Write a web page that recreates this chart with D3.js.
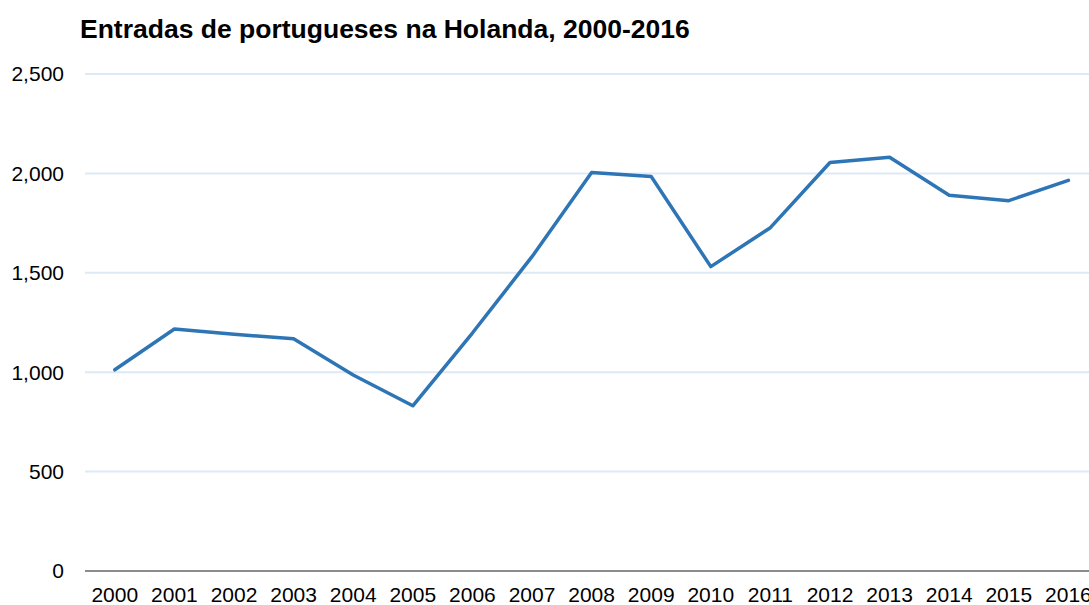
<!DOCTYPE html>
<html>
<head>
<meta charset="utf-8">
<script src="https://cdn.jsdelivr.net/npm/d3@7"></script>
<style>
  body { margin: 0; background: #fff; }
  svg { display: block; font-family: "Liberation Sans", Arial, sans-serif; }
</style>
</head>
<body>
<div id="chart"></div>
<script>
'use strict';

var years = ['2000','2001','2002','2003','2004','2005','2006','2007','2008','2009','2010','2011','2012','2013','2014','2015','2016'];
var entradas = [1012, 1217, 1191, 1168, 986, 831, 1197, 1581, 2004, 1984, 1531, 1727, 2055, 2081, 1890, 1863, 1965];
var yTicks = [0, 500, 1000, 1500, 2000, 2500];

var width = 1089, height = 605;
var margin = {left: 85, top: 74, bottom: 34};
var bandWidth = 59.6;

var svg = d3.select('#chart').append('svg')
    .attr('width', width)
    .attr('height', height);

var x = d3.scaleBand()
    .domain(years)
    .range([margin.left, margin.left + bandWidth * years.length]);

var y = d3.scaleLinear()
    .domain([0, 2500])
    .range([height - margin.bottom, margin.top]);

//title
svg.append('text')
    .attr('x', 80)
    .attr('y', 38)
    .attr('font-size', '26.5px')
    .attr('font-weight', 'bold')
    .attr('fill', '#000')
    .text('Entradas de portugueses na Holanda, 2000-2016');

//gridlines
svg.append('g')
    .selectAll('line')
    .data(yTicks.filter(function (d) { return d > 0; }))
    .enter().append('line')
    .attr('x1', margin.left)
    .attr('x2', width)
    .attr('y1', function (d) { return y(d); })
    .attr('y2', function (d) { return y(d); })
    .attr('stroke', '#dde9f5')
    .attr('stroke-width', 2);

//y labels
svg.append('g')
    .selectAll('text')
    .data(yTicks)
    .enter().append('text')
    .attr('x', 64)
    .attr('y', function (d) { return y(d); })
    .attr('dy', '0.35em')
    .attr('text-anchor', 'end')
    .attr('font-size', '21px')
    .attr('fill', '#000')
    .text(function (d) { return d3.format(',')(d); });

//x axis
var xAxis = svg.append('g')
    .attr('transform', 'translate(0,' + y(0) + ')')
    .call(d3.axisBottom(x).tickSize(0).tickPadding(16));
xAxis.select('.domain')
    .attr('d', 'M' + margin.left + ',0H' + width)
    .attr('stroke', '#8c8c8c')
    .attr('stroke-width', 2);
xAxis.selectAll('text')
    .attr('font-size', '21px')
    .attr('font-family', '"Liberation Sans", Arial, sans-serif')
    .attr('fill', '#000');

//line
var line = d3.line()
    .x(function (d, i) { return x(years[i]) + x.bandwidth() / 2; })
    .y(function (d) { return y(d); });

svg.append('path')
    .datum(entradas)
    .attr('d', line)
    .attr('fill', 'none')
    .attr('stroke', '#2e75b6')
    .attr('stroke-width', 3.5)
    .attr('stroke-linejoin', 'round')
    .attr('stroke-linecap', 'round');
</script>
</body>
</html>
